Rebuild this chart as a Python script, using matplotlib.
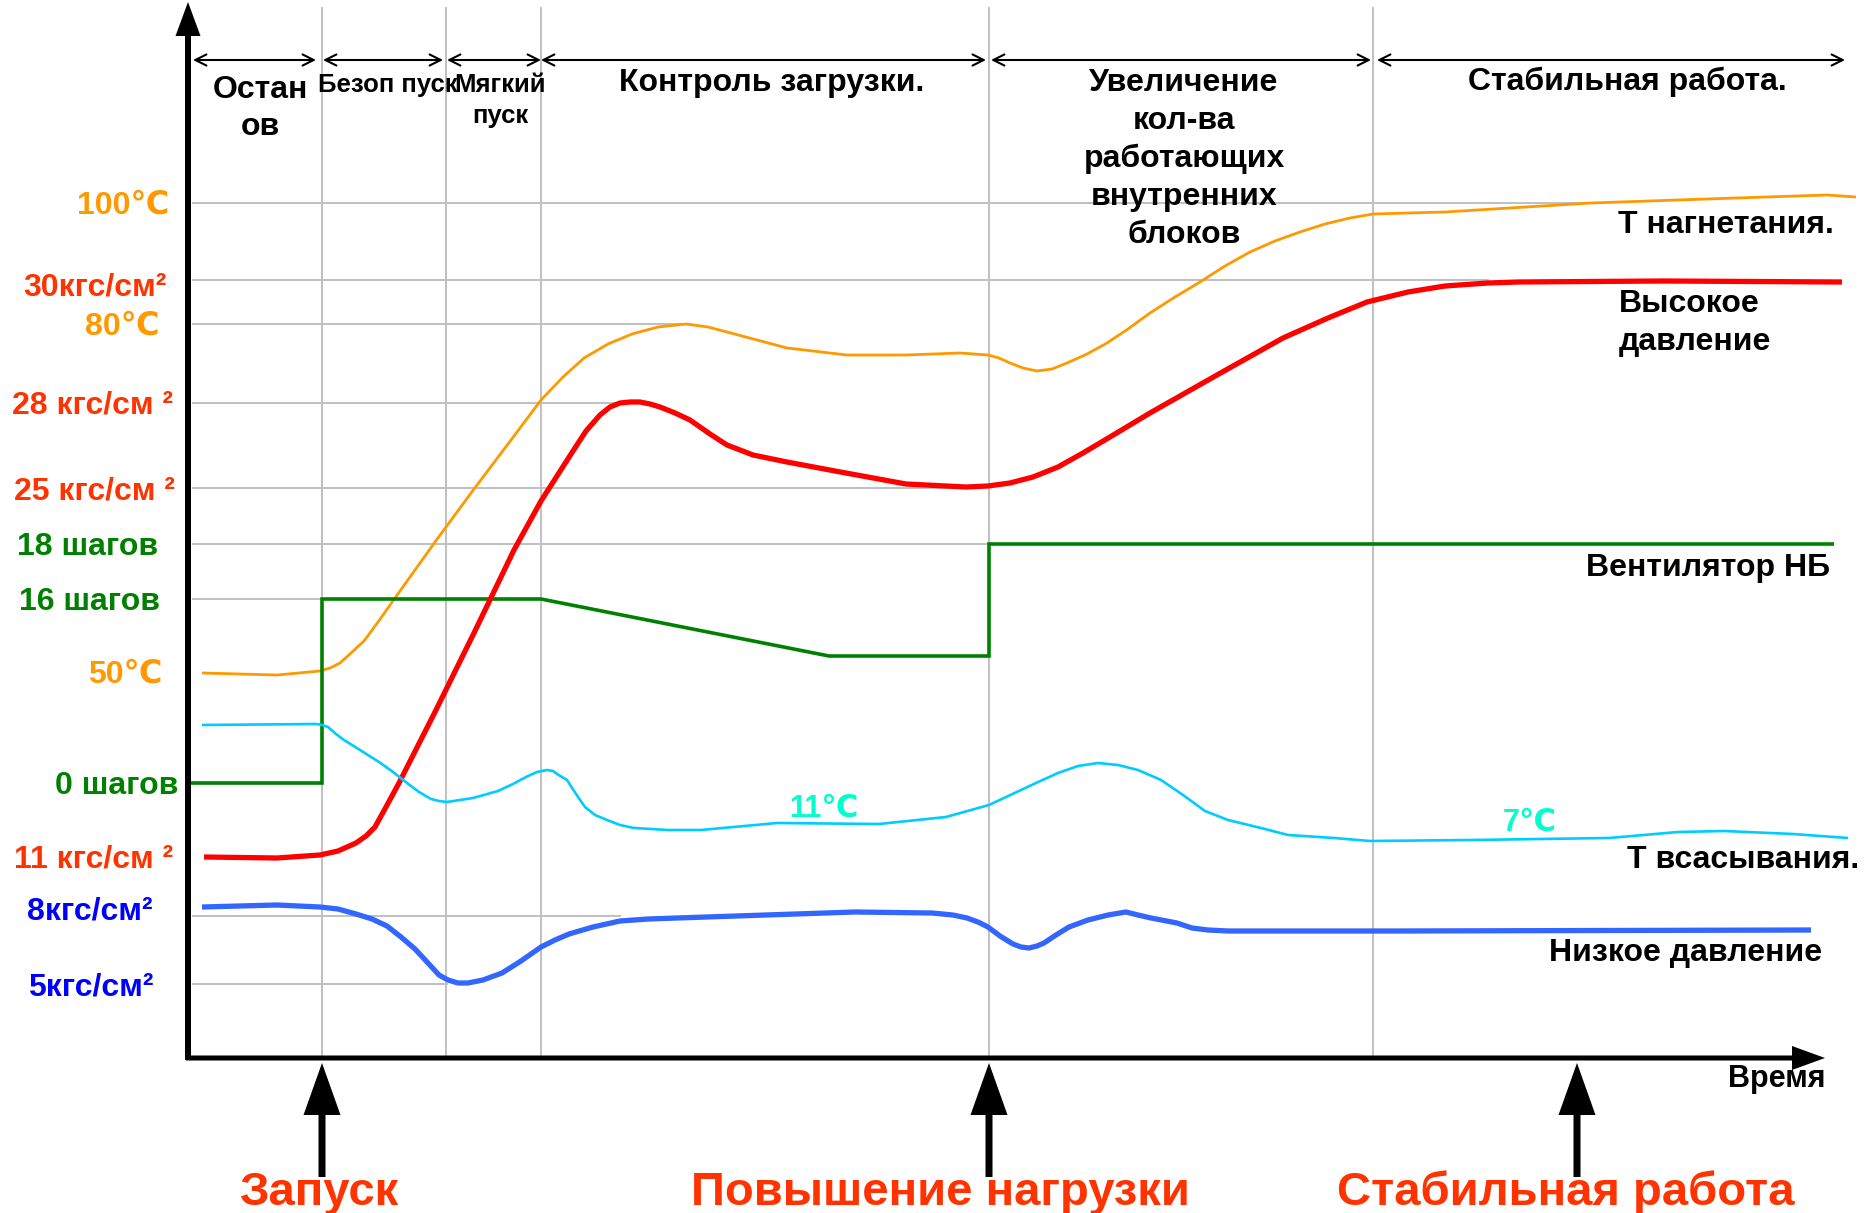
import matplotlib
matplotlib.use("Agg")
import matplotlib.pyplot as plt

plt.rcParams['font.family'] = ['Liberation Sans', 'DejaVu Sans']
plt.rcParams['font.weight'] = 'bold'

# time runs to the right from the origin, level runs up from the time axis
T_END = 1637
LEVEL_TOP = 1055

# phases of the start-up sequence
phase_start = [5, 135, 259, 353, 803, 1189]
phase_end = [128, 255, 353, 798, 1183, 1657]
phase_bounds = [134, 258, 353, 801, 1185]

# scale labels on the left and the level each one marks
scale_labels = ['100℃', '30кгс/см²', '80℃', '28 кгс/см ²', '25 кгс/см ²',
                '18 шагов', '16 шагов', '50℃', '0 шагов', '11 кгс/см ²',
                '8кгс/см²', '5кгс/см²']
scale_levels = [854, 777, 733, 654, 569, 513, 458, 385, 274, 200, 141, 73]
scale_colors = ['#FF9900', '#FF3300', '#FF9900', '#FF3300', '#FF3300',
                '#008000', '#008000', '#FF9900', '#008000', '#FF3300',
                '#0000FF', '#0000FF']
guide_end = [1410, 1300, 502, 452, 762, 801, 134, None, None, None, 432, 259]

# discharge temperature
t_disch = [14, 89, 132, 142, 152, 163, 176, 190, 207, 247, 286, 326, 353, 375,
           396, 420, 444, 470, 498, 520, 539, 599, 659, 718, 772, 800, 811,
           822, 835, 849, 864, 879, 899, 919, 940, 962, 987, 1012, 1037, 1062,
           1087, 1112, 1137, 1162, 1185, 1220, 1257, 1403, 1548, 1639, 1668]
v_disch = [384, 382, 386, 389, 394, 404, 416, 435, 459, 515, 568, 621, 657, 680,
           699, 713, 723, 730, 733, 730, 725, 709, 702, 702, 704, 702, 699,
           694, 689, 686, 688, 694, 703, 714, 728, 744, 760, 775, 791, 805,
           816, 825, 833, 839, 843, 844, 845, 854, 859, 862, 860]

# high pressure
t_high = [16, 89, 132, 150, 168, 178, 187, 198, 211, 247, 286, 326, 353, 385,
          398, 412, 422, 432, 442, 452, 462, 472, 487, 502, 522, 539, 565,
          599, 647, 718, 778, 800, 822, 845, 870, 895, 927, 962, 1029, 1095,
          1140, 1179, 1220, 1257, 1300, 1330, 1476, 1654]
v_high = [200, 199, 202, 206, 214, 221, 230, 250, 274, 345, 424, 507, 556, 606,
          626, 642, 650, 654, 655, 655, 653, 650, 644, 637, 623, 612, 602,
          595, 586, 573, 570, 571, 574, 580, 590, 604, 623, 644, 682, 719,
          739, 755, 765, 771, 774, 775, 776, 775]

# outdoor unit fan steps
t_fan = [0, 134, 134, 353, 641, 801, 801, 1646]
v_fan = [274, 274, 458, 458, 401, 401, 513, 513]

# suction temperature
t_suct = [14, 128, 134, 140, 148, 156, 172, 191, 205, 219, 231, 243, 251, 259,
          285, 310, 325, 338, 349, 359, 365, 369, 374, 379, 388, 397, 407,
          419, 432, 446, 480, 513, 589, 691, 758, 801, 848, 870, 890, 910,
          930, 950, 973, 995, 1017, 1040, 1077, 1100, 1146, 1182, 1283, 1421,
          1490, 1536, 1605, 1660]
v_suct = [332, 333, 332, 330, 323, 317, 307, 295, 285, 274, 265, 258, 256, 255,
          259, 266, 273, 280, 285, 287, 286, 283, 280, 277, 263, 250, 242,
          237, 232, 229, 227, 227, 234, 233, 240, 252, 274, 284, 291, 294,
          292, 287, 277, 262, 246, 237, 228, 222, 219, 216, 217, 219,
          225, 226, 223, 219]

# low pressure
t_low = [14, 89, 132, 150, 168, 184, 199, 213, 227, 240, 251, 260, 270, 280,
         295, 314, 333, 353, 367, 381, 405, 432, 460, 489, 667, 744, 765, 779,
         790, 800, 812, 825, 833, 841, 849, 856, 868, 881, 900, 920, 938, 950,
         963, 989, 1004, 1020, 1040, 1075, 1212, 1623]
v_low = [150, 152, 150, 148, 143, 138, 131, 120, 108, 94, 82, 77, 74, 74,
         77, 84, 96, 110, 117, 123, 130, 136, 138, 139, 145, 144, 142, 139,
         135, 130, 121, 113, 110, 109, 111, 114, 122, 130, 137, 142, 145, 142,
         139, 134, 129, 127, 126, 126, 126, 127]

# events along the time axis
event_times = [134, 801, 1389]
event_labels = ['Запуск', 'Повышение нагрузки', 'Стабильная работа']
event_text_x = [132, 752, 1378]

fig = plt.figure(figsize=(18.7, 12.13), dpi=100)
ax = fig.add_axes([0, 0, 1, 1])
ax.set_xlim(-188, 1682)
ax.set_ylim(-156, 1057)
ax.axis('off')

grid_c = '#C0C0C0'

# phase boundaries
for t in phase_bounds:
    ax.plot([t, t], [0, 1049], color=grid_c, lw=1.4, zorder=1)

# guide lines from the scale labels
for lev, end in zip(scale_levels, guide_end):
    if end is not None:
        ax.plot([5, end], [lev, lev], color=grid_c, lw=1.4, zorder=1)

# phase span arrows
for a, b in zip(phase_start, phase_end):
    ax.annotate('', xy=(b, 997), xytext=(a, 997),
                arrowprops=dict(arrowstyle='<->', lw=1.5, color='black',
                                shrinkA=0, shrinkB=0, mutation_scale=20))


def lines_text(x, base, lines, step, size, color='black', ha='center'):
    for i, s in enumerate(lines):
        ax.text(x, base - i * step, s, fontsize=size, color=color, ha=ha,
                va='baseline', fontweight='bold', zorder=6)


lines_text(72, 959, ['Остан', 'ов'], 37, 23)
lines_text(200, 965, ['Безоп пуск'], 31, 18.5)
lines_text(312, 965, ['Мягкий', 'пуск'], 31, 18.5)
lines_text(584, 966, ['Контроль загрузки.'], 38, 23)
lines_text(996, 966, ['Увеличение', 'кол-ва', 'работающих', 'внутренних',
                      'блоков'], 38, 23)
lines_text(1439, 967, ['Стабильная работа.'], 38, 23)

# curves
ax.plot(t_disch, v_disch, color='#FF9900', lw=2.0, zorder=3,
        solid_joinstyle='round', solid_capstyle='butt')
ax.plot(t_fan, v_fan, color='#008000', lw=2.6, zorder=3,
        solid_joinstyle='miter', solid_capstyle='butt')
ax.plot(t_high, v_high, color='#FF0000', lw=3.8, zorder=4,
        solid_joinstyle='round', solid_capstyle='butt')
ax.plot(t_suct, v_suct, color='#00CCFF', lw=1.9, zorder=4,
        solid_joinstyle='round', solid_capstyle='butt')
ax.plot(t_low, v_low, color='#3366FF', lw=3.8, zorder=4,
        solid_joinstyle='round', solid_capstyle='butt')

# scale labels
label_nudge = [0, -4, 0, 0, 0, 0, 0, 0, 0, 0, 8, 0]
label_right = [-19, -21, -28, -15, -13, -30, -28, -26, -10, -15, -35, -35]
for s, lev, c, r, dn in zip(scale_labels, scale_levels, scale_colors,
                            label_right, label_nudge):
    ax.text(r, lev - 11 + dn, s, fontsize=23, color=c, ha='right',
            va='baseline', fontweight='bold', zorder=6)

# curve names
lines_text(1430, 824, ['Т нагнетания.'], 38, 23, ha='left')
lines_text(1431, 745, ['Высокое', 'давление'], 38, 23, ha='left')
lines_text(1398, 481, ['Вентилятор НБ'], 38, 23, ha='left')
lines_text(1439, 189, ['Т всасывания.'], 38, 23, ha='left')
lines_text(1361, 96, ['Низкое давление'], 38, 23, ha='left')
lines_text(601, 240, ['11℃'], 38, 22, color='#00FFCC', ha='left')
lines_text(1315, 226, ['7℃'], 38, 22, color='#00FFCC', ha='left')
lines_text(T_END, -30, ['Время'], 38, 22, ha='right')

# axes with arrow heads
ax.arrow(0, -3, 0, LEVEL_TOP + 3, width=6, head_width=25, head_length=34,
         length_includes_head=True, fc='black', ec='none', zorder=5)
ax.arrow(-2, -1, T_END + 2, 0, width=5, head_width=24, head_length=33,
         length_includes_head=True, fc='black', ec='none', zorder=5)

# event markers below the time axis
for t, lab, tx in zip(event_times, event_labels, event_text_x):
    ax.arrow(t, -120, 0, 114, width=7, head_width=37, head_length=52,
             length_includes_head=True, fc='black', ec='none', zorder=5)
    ax.text(tx, -148, lab, fontsize=34, color='#FF3300', ha='center',
            va='baseline', fontweight='bold', zorder=6)

fig.savefig('out.png', dpi=100)
